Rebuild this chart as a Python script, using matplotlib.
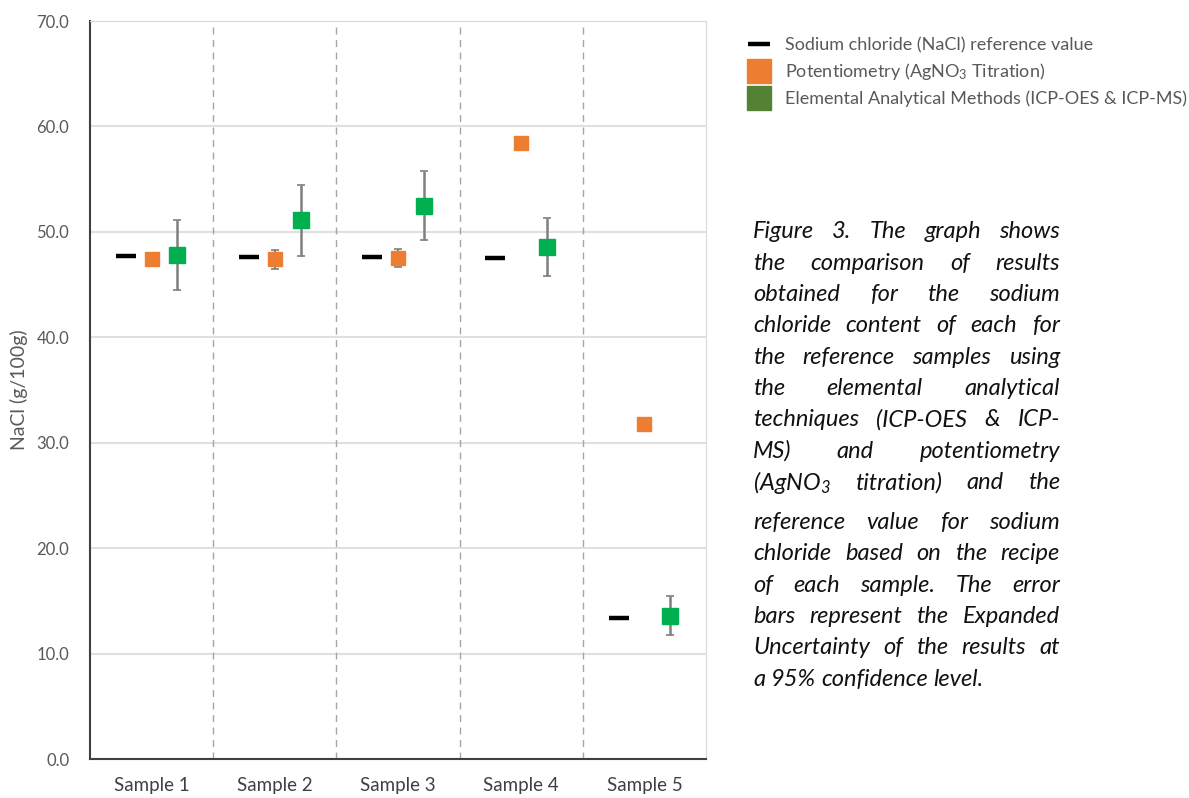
import numpy as np
import matplotlib.pyplot as plt
from matplotlib.lines import Line2D

plt.rcParams['font.family'] = ['Lato', 'DejaVu Sans']
plt.rcParams['mathtext.fontset'] = 'custom'
plt.rcParams['mathtext.rm'] = 'Lato'
plt.rcParams['mathtext.it'] = 'Lato:italic'

samples = ["Sample 1", "Sample 2", "Sample 3", "Sample 4", "Sample 5"]
reference_value = [47.75, 47.6, 47.6, 47.5, 13.35]
potentiometry = [47.4, 47.4, 47.5, 58.4, 31.8]
potentiometry_err = [0.0, 0.9, 0.85, 0.0, 0.0]
elemental = [47.8, 51.1, 52.5, 48.6, 13.6]
elemental_err = [3.35, 3.35, 3.3, 2.75, 1.85]

caption_lines = [
    "Figure 3. The graph shows",
    "the comparison of results",
    "obtained for the sodium",
    "chloride content of each for",
    "the reference samples using",
    "the elemental analytical",
    "techniques (ICP-OES & ICP-",
    "MS) and potentiometry",
    r"(AgNO$\mathregular{_3}$ titration) and the",
    "reference value for sodium",
    "chloride based on the recipe",
    "of each sample. The error",
    "bars represent the Expanded",
    "Uncertainty of the results at",
    "a 95% confidence level.",
]

GREY_TXT = '#595959'
ORANGE = '#ed7d31'
GREEN = '#00b050'

fig = plt.figure(figsize=(11.89, 7.98), dpi=100)
ax = fig.add_axes([90 / 1189, 1 - 759 / 798, 616 / 1189, 738 / 798])

x = np.arange(len(samples))
off = 0.21

ax.plot(x - off, reference_value, linestyle='none', marker='_', color='black',
        markersize=14, markeredgewidth=3.2, zorder=4)
ax.errorbar(x, potentiometry, yerr=potentiometry_err, fmt='s', color=ORANGE,
            markersize=10, ecolor='#7f7f7f', elinewidth=1.5, capsize=3,
            capthick=1.2, zorder=4)
ax.errorbar(x + off, elemental, yerr=elemental_err, fmt='s', color=GREEN,
            markersize=11.5, ecolor='#7f7f7f', elinewidth=1.8, capsize=3,
            capthick=1.2, zorder=3)

for b in x[:-1] + 0.5:
    ax.axvline(b, color='#a6a6a6', linestyle=(0, (5, 4)), linewidth=1.0, zorder=2)

ax.set_xlim(-0.5, len(samples) - 0.5)
ax.set_ylim(0, 70)
ax.set_yticks(np.arange(0, 71, 10))
ax.set_yticklabels([f"{v:.1f}" for v in np.arange(0, 71, 10)])
ax.set_xticks(x)
ax.set_xticklabels(samples)
ax.yaxis.grid(True, color='#e0e0e0', linewidth=1.5)
ax.set_axisbelow(True)
ax.tick_params(axis='y', length=0, labelsize=12, labelcolor=GREY_TXT, pad=15)
ax.tick_params(axis='x', length=0, labelsize=13.5, labelcolor='#404040', pad=13)
ax.set_ylabel("NaCl (g/100g)", fontsize=14, color=GREY_TXT, labelpad=6)

for s in ['left', 'bottom']:
    ax.spines[s].set_color('#404040')
    ax.spines[s].set_linewidth(1.5)
ax.spines['right'].set_color('#d9d9d9')
ax.spines['top'].set_color('#d9d9d9')

handles = [
    Line2D([], [], linestyle='none', marker='_', color='black', markersize=16,
           markeredgewidth=3.2),
    Line2D([], [], linestyle='none', marker='s', color=ORANGE, markersize=17),
    Line2D([], [], linestyle='none', marker='s', color='#548235', markersize=17),
]
labels = [
    "Sodium chloride (NaCl) reference value",
    r"Potentiometry (AgNO$\mathregular{_3}$ Titration)",
    "Elemental Analytical Methods (ICP-OES & ICP-MS)",
]
fig.legend(handles, labels, loc='upper left', bbox_to_anchor=(742 / 1189, 1 - 30 / 798),
           frameon=False, fontsize=13, labelcolor=GREY_TXT, handlelength=1.1,
           handletextpad=0.9, labelspacing=0.45, borderaxespad=0)

# justified caption, word by word
W, H = fig.get_size_inches() * fig.dpi
x0, x1 = 753 / W, 1060 / W
renderer = fig.canvas.get_renderer()
y_px = 232
for i, line in enumerate(caption_lines):
    if i == 9:
        y_px += 9
    words = line.split(' ')
    texts = [fig.text(0, 1 - y_px / H, w, fontsize=17, style='italic', color='#111111',
                      va='center', ha='left') for w in words]
    widths = [t.get_window_extent(renderer).width / W for t in texts]
    if i == len(caption_lines) - 1:
        gap = 5.5 / W
    else:
        gap = (x1 - x0 - sum(widths)) / (len(words) - 1)
    pos = x0
    for t, w in zip(texts, widths):
        t.set_x(pos)
        pos += w + gap
    y_px += 31.3

fig.savefig("out.png", dpi=100)
